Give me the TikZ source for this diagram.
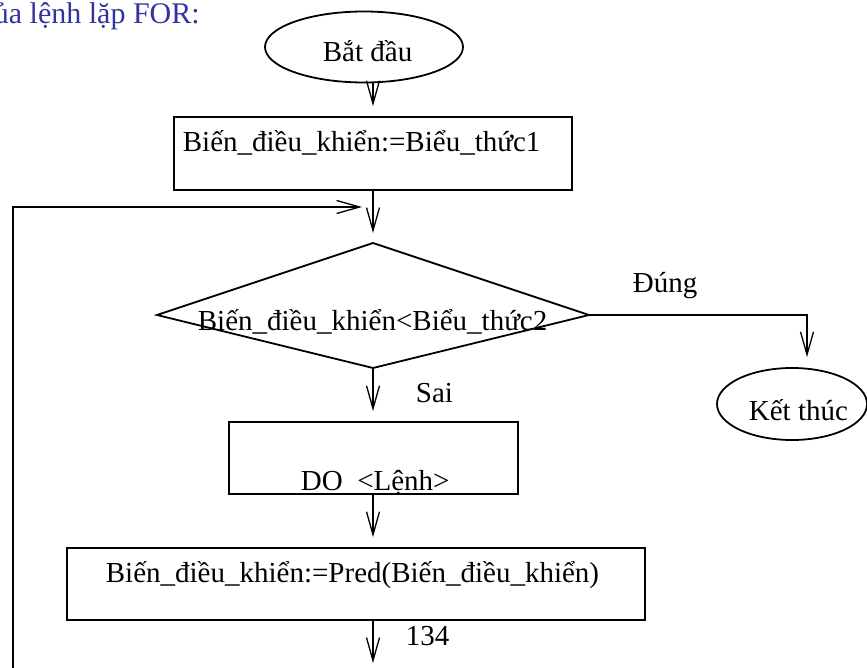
\documentclass[tikz,border=0pt]{standalone}
\usepackage{fontspec}
\setmainfont{Liberation Serif}
\usetikzlibrary{arrows.meta,shapes.geometric,calc}
\definecolor{titleblue}{RGB}{51,51,160}
\begin{document}
\begin{tikzpicture}[x=1pt,y=-1pt,
  font=\fontsize{29}{32}\selectfont,
  line width=1.8pt,
  arr/.style={-{Straight Barb[length=23pt,width=13pt,line width=1.3pt]}, line width=1.3pt},
  gap/.style={shorten >=10pt},
  boxn/.style={draw, rectangle, inner sep=0pt},
  ovaln/.style={draw, ellipse, inner sep=0pt},
  txt/.style={inner sep=0pt, anchor=base west}]
\useasboundingbox (0,0) rectangle (867,668);

% title
\node[txt, text=titleblue, font=\fontsize{30}{33}\selectfont] (title) at (-7,24) {ủa lệnh lặp FOR:};

% start
\node[ovaln, minimum width=198pt, minimum height=71pt] (start) at (364,47) {};
\node[txt] (starttxt) at (322,62) {Bắt đầu};

% box 1
\node[boxn, minimum width=398pt, minimum height=73pt] (box1) at (373,153.5) {};
\node[txt] (box1txt) at (182,152) {Biến\_điều\_khiển:=Biểu\_thức1};

% diamond
\coordinate (dT) at (373,243);
\coordinate (dR) at (589,315);
\coordinate (dB) at (373,368);
\coordinate (dL) at (157,315);
\draw (dT) -- (dR) -- (dB) -- (dL) -- cycle;
\node[txt] (condtxt) at (197,330) {Biến\_điều\_khiển<Biểu\_thức2};

% end
\node[ovaln, minimum width=150pt, minimum height=72pt] (endn) at (792,404) {};
\node[txt] (endtxt) at (748,420) {Kết thúc};

% box 2
\node[boxn, minimum width=289pt, minimum height=72pt] (box2) at (373.5,458) {};
\node[txt] (box2txt) at (300,490) {DO\ \ <Lệnh>};

% box 3
\node[boxn, minimum width=578pt, minimum height=72pt] (box3) at (356,584) {};
\node[txt] (box3txt) at (105,582) {Biến\_điều\_khiển:=Pred(Biến\_điều\_khiển)};

% labels
\node[txt] (dung) at (632,293) {Đúng};
\node[txt] (sai) at (415,402) {Sai};
\node[txt] (page) at (405,645) {134};

% helper coordinates
\coordinate (join) at (373,207);
\coordinate (loopbot) at (13,668);
\coordinate (exit) at (373,663);

% connectors
\draw[arr,gap] (start.south -| box1.north) -- (box1.north);
\draw[arr,gap] (box1.south) -- (dT);
\draw[arr,shorten >=11pt] (loopbot) |- (join);
\draw[arr,gap] (dR) -| ([xshift=15pt]endn.north);
\draw[arr,gap] (dB) -- (dB |- box2.north);
\draw[arr,gap] (box2.south -| dB) -- (dB |- box3.north);
\draw[arr] (box3.south -| dB) -- (exit);
\end{tikzpicture}
\end{document}
